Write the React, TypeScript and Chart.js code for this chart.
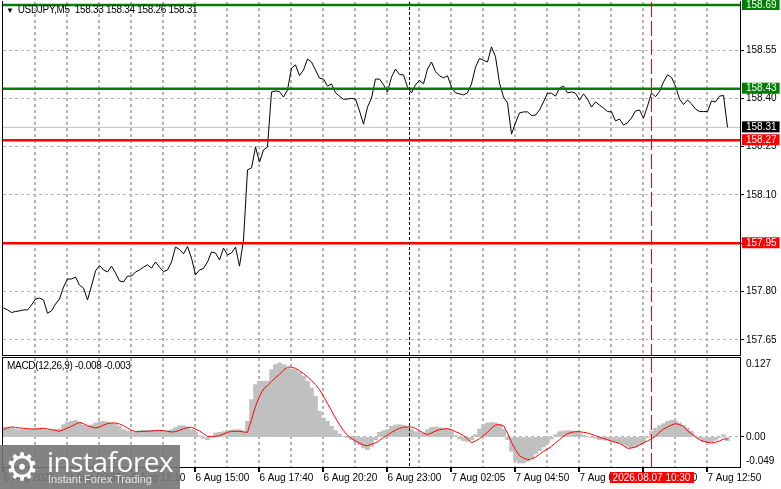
import React, { useEffect, useRef } from "react";
import { Chart, registerables } from "chart.js";

Chart.register(...registerables);

const FONT = "'Liberation Sans', Arial, sans-serif";

const priceValues: number[] = [
  157.749, 157.743, 157.735, 157.738, 157.740, 157.743, 157.743, 157.758, 157.777, 157.780,
  157.774, 157.733, 157.740, 157.761, 157.777, 157.814, 157.839, 157.839, 157.845, 157.820,
  157.811, 157.774, 157.817, 157.864, 157.881, 157.867, 157.861, 157.879, 157.858, 157.833,
  157.830, 157.848, 157.848, 157.861, 157.867, 157.876, 157.883, 157.873, 157.892, 157.876,
  157.862, 157.867, 157.892, 157.938, 157.931, 157.917, 157.940, 157.904, 157.852, 157.867,
  157.872, 157.892, 157.923, 157.920, 157.898, 157.935, 157.914, 157.920, 157.938, 157.879,
  157.960, 158.178, 158.184, 158.249, 158.202, 158.240, 158.249, 158.420, 158.423, 158.421,
  158.404, 158.426, 158.494, 158.504, 158.471, 158.488, 158.522, 158.513, 158.488, 158.463,
  158.460, 158.438, 158.445, 158.417, 158.407, 158.397, 158.398, 158.400, 158.398, 158.361,
  158.320, 158.373, 158.401, 158.460, 158.460, 158.442, 158.420, 158.466, 158.491, 158.474,
  158.473, 158.435, 158.417, 158.442, 158.456, 158.445, 158.491, 158.513, 158.483, 158.470,
  158.464, 158.470, 158.435, 158.417, 158.414, 158.411, 158.417, 158.445, 158.497, 158.524,
  158.518, 158.513, 158.560, 158.529, 158.448, 158.404, 158.386, 158.289, 158.324, 158.355,
  158.358, 158.358, 158.347, 158.348, 158.364, 158.389, 158.416, 158.416, 158.407, 158.432,
  158.438, 158.417, 158.420, 158.416, 158.395, 158.414, 158.398, 158.373, 158.389, 158.379,
  158.370, 158.359, 158.358, 158.330, 158.336, 158.317, 158.324, 158.339, 158.361, 158.364,
  158.339, 158.376, 158.417, 158.405, 158.421, 158.451, 158.473, 158.465, 158.438, 158.398,
  158.381, 158.395, 158.383, 158.367, 158.359, 158.359, 158.359, 158.392, 158.389, 158.407,
  158.409, 158.310,
];

const macdMain: number[] = [
  0.0163, 0.0158, 0.0147, 0.0131, 0.0120, 0.0120, 0.0120, 0.0125, 0.0131, 0.0125,
  0.0120, 0.0109, 0.0109, 0.0120, 0.0131, 0.0202, 0.0240, 0.0256, 0.0272, 0.0240,
  0.0196, 0.0174, 0.0196, 0.0229, 0.0251, 0.0256, 0.0245, 0.0229, 0.0218, 0.0174,
  0.0120, 0.0093, 0.0065, 0.0076, 0.0103, 0.0109, 0.0109, 0.0109, 0.0103, 0.0098,
  0.0093, 0.0103, 0.0120, 0.0153, 0.0185, 0.0185, 0.0163, 0.0120, 0.0076, 0.0022,
  -0.0022, -0.0044, 0.0022, 0.0065, 0.0076, 0.0087, 0.0103, 0.0109, 0.0120, 0.0120,
  0.0103, 0.0256, 0.0610, 0.0855, 0.0910, 0.0910, 0.0910, 0.1100, 0.1182, 0.1209,
  0.1182, 0.1128, 0.1111, 0.1100, 0.1057, 0.0991, 0.0910, 0.0801, 0.0665, 0.0419,
  0.0310, 0.0256, 0.0174, 0.0103, 0.0049, 0.0011, -0.0005, -0.0044, -0.0076, -0.0125,
  -0.0180, -0.0207, -0.0153, -0.0044, 0.0076, 0.0103, 0.0120, 0.0174, 0.0196, 0.0202,
  0.0191, 0.0174, 0.0120, 0.0087, 0.0065, 0.0065, 0.0120, 0.0158, 0.0163, 0.0153,
  0.0136, 0.0131, 0.0093, 0.0022, -0.0033, -0.0060, -0.0071, -0.0044, 0.0038, 0.0131,
  0.0202, 0.0229, 0.0240, 0.0229, 0.0202, 0.0120, -0.0044, -0.0234, -0.0381, -0.0425,
  -0.0425, -0.0398, -0.0343, -0.0272, -0.0223, -0.0163, -0.0098, -0.0033, 0.0038, 0.0087,
  0.0098, 0.0103, 0.0098, 0.0087, 0.0065, 0.0027, 0.0000, -0.0011, -0.0022, -0.0044,
  -0.0049, -0.0054, -0.0071, -0.0087, -0.0098, -0.0125, -0.0153, -0.0174, -0.0169, -0.0131,
  -0.0076, -0.0016, 0.0093, 0.0142, 0.0185, 0.0218, 0.0256, 0.0272, 0.0261, 0.0229,
  0.0185, 0.0147, 0.0093, 0.0022, -0.0033, -0.0076, -0.0098, -0.0082, -0.0054, -0.0016,
  0.0038, -0.0060,
];

const macdSignal: number[] = [
  0.0120, 0.0153, 0.0163, 0.0158, 0.0147, 0.0142, 0.0136, 0.0131, 0.0131, 0.0136,
  0.0142, 0.0131, 0.0120, 0.0109, 0.0093, 0.0120, 0.0147, 0.0174, 0.0207, 0.0240,
  0.0218, 0.0185, 0.0163, 0.0147, 0.0163, 0.0196, 0.0218, 0.0229, 0.0229, 0.0212,
  0.0185, 0.0147, 0.0109, 0.0087, 0.0087, 0.0093, 0.0093, 0.0098, 0.0103, 0.0109,
  0.0103, 0.0093, 0.0082, 0.0087, 0.0109, 0.0136, 0.0153, 0.0158, 0.0131, 0.0098,
  0.0054, 0.0011, 0.0000, 0.0011, 0.0022, 0.0049, 0.0076, 0.0093, 0.0093, 0.0093,
  0.0082, 0.0076, 0.0283, 0.0501, 0.0665, 0.0784, 0.0839, 0.0904, 0.0970, 0.1024,
  0.1089, 0.1144, 0.1138, 0.1122, 0.1084, 0.1035, 0.0980, 0.0921, 0.0855, 0.0773,
  0.0665, 0.0545, 0.0431, 0.0310, 0.0202, 0.0103, 0.0027, -0.0022, -0.0065, -0.0103,
  -0.0131, -0.0142, -0.0120, -0.0098, -0.0054, -0.0011, 0.0033, 0.0076, 0.0109, 0.0142,
  0.0158, 0.0163, 0.0163, 0.0142, 0.0103, 0.0065, 0.0038, 0.0065, 0.0098, 0.0120,
  0.0131, 0.0136, 0.0120, 0.0087, 0.0060, 0.0022, -0.0033, -0.0093, -0.0065, -0.0027,
  0.0027, 0.0076, 0.0147, 0.0196, 0.0202, 0.0185, 0.0065, -0.0087, -0.0207, -0.0305,
  -0.0343, -0.0370, -0.0359, -0.0327, -0.0283, -0.0234, -0.0196, -0.0153, -0.0098, -0.0044,
  0.0011, 0.0054, 0.0076, 0.0087, 0.0087, 0.0076, 0.0065, 0.0044, 0.0022, -0.0005,
  -0.0022, -0.0044, -0.0065, -0.0087, -0.0103, -0.0142, -0.0185, -0.0180, -0.0163, -0.0131,
  -0.0093, -0.0065, -0.0027, 0.0011, 0.0076, 0.0131, 0.0163, 0.0196, 0.0218, 0.0202,
  0.0174, 0.0098, 0.0054, 0.0000, -0.0044, -0.0071, -0.0087, -0.0098, -0.0087, -0.0065,
  -0.0033, -0.0033,
];

const BARS_PER_POINT = 2;
const GRID_STEP_BARS = 16;
const LABEL_STEP_BARS = 32;
const xTickLabels = [
  "6 Aug 2026", "6 Aug 09:30", "6 Aug 12:10", "6 Aug 15:00", "6 Aug 17:40", "6 Aug 20:20",
  "6 Aug 23:00", "7 Aug 02:05", "7 Aug 04:50", "7 Aug 07:30", "7 Aug 10:10", "7 Aug 12:50",
];

const priceGridTicks = [158.55, 158.4, 158.25, 158.1, 157.95, 157.8, 157.65];
const markValues = [158.69, 158.43, 158.31, 158.27, 157.95];
const markColors = ["#008000", "#008000", "#000000", "#ff0000", "#ff0000"];
const greenLevels = [158.69, 158.43];
const redLevels = [158.27, 157.95];
const bidPrice = 158.31;
const dottedLineBar = 203;
const timeLineBar = 324;
const timeLineLabel = "2026.08.07 10:30";
const macdTickPos = [0.118, 0, -0.039];
const macdTickLabels = ["0.127", "0.00", "-0.049"];
const titleText = "USDJPY,M5  158.33 158.34 158.26 158.31";
const macdText = "MACD(12,26,9) -0.008 -0.003";

const X_MIN = -0.25;
const X_MAX = 368.25;
const PRICE_MIN = 157.603;
const PRICE_MAX = 158.6993;
const MACD_MIN = -0.049;
const MACD_MAX = 0.129;

const GRID_COLOR = "#b4b4b4";

const gridBars: number[] = [];
for (let b = 0; b <= X_MAX; b += GRID_STEP_BARS) gridBars.push(b);

const toPoints = (arr: number[]) => arr.map((y, i) => ({ x: i * BARS_PER_POINT, y }));

// frame + vertical time grid (dashed), positions from the x scale
const framePlugin = (drawTop: boolean, drawTimeTicks: boolean) => ({
  id: "panelFrame",
  beforeDatasetsDraw(chart: any) {
    const { ctx, chartArea: a } = chart;
    const xs = chart.scales.x;
    ctx.save();
    ctx.fillStyle = GRID_COLOR;
    for (const b of gridBars) {
      const px = Math.floor(xs.getPixelForValue(b));
      if (px <= a.left + 1 || px >= a.right - 1) continue;
      for (let y = Math.ceil(a.top); y < a.bottom; y += 6) {
        ctx.fillRect(px - 1, y, 2, Math.min(3, a.bottom - y));
      }
    }
    ctx.restore();
  },
  afterDatasetsDraw(chart: any) {
    const { ctx, chartArea: a } = chart;
    ctx.save();
    ctx.fillStyle = "#000";
    const l = Math.round(a.left) - 1;
    const r = Math.round(a.right);
    const t = Math.round(a.top) - 1;
    const btm = Math.round(a.bottom);
    if (drawTop) ctx.fillRect(l, t, r - l + 1, 1);
    ctx.fillRect(l, t, 1, btm - t + 1);
    ctx.fillRect(r, t, 1, btm - t + 1);
    ctx.fillRect(l, btm, r - l + 1, 1);
    if (drawTimeTicks) {
      const xs = chart.scales.x;
      for (const b of gridBars) {
        if (b % LABEL_STEP_BARS !== 0) continue;
        ctx.fillRect(Math.floor(xs.getPixelForValue(b)) - 1, btm, 2, 5);
      }
    }
    ctx.restore();
  },
});

const timeBoxPlugin = {
  id: "timeBox",
  afterDraw(chart: any) {
    const { ctx, chartArea } = chart;
    const x = chart.scales.x.getPixelForValue(timeLineBar);
    ctx.save();
    ctx.font = `10px ${FONT}`;
    const w = ctx.measureText(timeLineLabel).width + 6;
    const top = chartArea.bottom + 5;
    ctx.fillStyle = "#ff0000";
    ctx.fillRect(Math.round(x - w / 2), top, Math.round(w), 11);
    ctx.fillStyle = "#ffffff";
    ctx.textAlign = "center";
    ctx.textBaseline = "middle";
    ctx.fillText(timeLineLabel, x, top + 6);
    ctx.restore();
  },
};

const hLine = (v: number, color: string, width: number, order: number) => ({
  type: "line" as const,
  data: [{ x: X_MIN, y: v }, { x: X_MAX, y: v }],
  borderColor: color,
  borderWidth: width,
  pointRadius: 0,
  order,
});

const vLine = (bar: number, lo: number, hi: number, color: string, dash: number[], order = 0) => ({
  type: "line" as const,
  data: [{ x: bar, y: hi }, { x: bar, y: lo }],
  borderColor: color,
  borderWidth: 1,
  borderDash: dash,
  pointRadius: 0,
  order,
});

const xScaleBase = {
  type: "linear" as const,
  min: X_MIN,
  max: X_MAX,
  offset: false,
  afterBuildTicks: (s: any) => {
    s.ticks = gridBars.map((v) => ({ value: v }));
  },
};

export default function App() {
  const mainRef = useRef<HTMLCanvasElement>(null);
  const macdRef = useRef<HTMLCanvasElement>(null);

  useEffect(() => {
    const main = new Chart(mainRef.current!, {
      type: "line",
      data: {
        datasets: [
          hLine(bidPrice, "#c0c0c0", 1, 3),
          {
            type: "line",
            data: toPoints(priceValues),
            borderColor: "#000000",
            borderWidth: 1,
            pointRadius: 0,
            tension: 0,
            order: 2,
          },
          ...greenLevels.map((v) => hLine(v, "#008000", 2.5, 1)),
          ...redLevels.map((v) => hLine(v, "#ff0000", 2.5, 1)),
          vLine(dottedLineBar, PRICE_MIN, PRICE_MAX, "#000000", [3, 2]),
          vLine(timeLineBar, PRICE_MIN, PRICE_MAX, "#ff0000", [15, 4]),
        ] as any,
      },
      options: {
        animation: false,
        responsive: true,
        maintainAspectRatio: false,
        devicePixelRatio: 1,
        events: [],
        layout: { padding: { left: 3, top: 2, right: 0, bottom: 2 } },
        plugins: { legend: { display: false }, tooltip: { enabled: false } },
        scales: {
          x: {
            ...xScaleBase,
            afterFit: (s: any) => {
              s.height = 0;
              s.paddingLeft = 0;
              s.paddingRight = 0;
            },
            ticks: { display: false },
            grid: { display: false, drawTicks: false, offset: false },
            border: { display: false },
          },
          y: {
            type: "linear",
            position: "right",
            min: PRICE_MIN,
            max: PRICE_MAX,
            afterBuildTicks: (s: any) => {
              s.ticks = [...priceGridTicks, ...markValues].map((v) => ({ value: v }));
            },
            afterFit: (s: any) => {
              s.width = 41;
              s.paddingTop = 0;
              s.paddingBottom = 0;
            },
            ticks: {
              autoSkip: false,
              padding: 2,
              font: { family: FONT, size: 10, lineHeight: 1 },
              color: (c: any) => (c.index >= priceGridTicks.length ? "#ffffff" : "#000000"),
              showLabelBackdrop: (c: any) => c.index >= priceGridTicks.length,
              backdropColor: (c: any) => markColors[c.index - priceGridTicks.length] || "transparent",
              backdropPadding: { top: 1, bottom: 0, left: 4, right: 3 },
              callback: (v: any) => Number(v).toFixed(2),
            } as any,
            grid: {
              color: (c: any) => (c.index < priceGridTicks.length ? GRID_COLOR : "transparent"),
              tickColor: (c: any) => (c.index < priceGridTicks.length ? "#000000" : "transparent"),
              drawTicks: true,
              tickLength: 4,
              lineWidth: 1,
            },
            border: { display: false, dash: [3, 3] },
          },
        },
      },
      plugins: [framePlugin(false, false)],
    });

    const macd = new Chart(macdRef.current!, {
      type: "line",
      data: {
        datasets: [
          {
            type: "bar",
            data: toPoints(macdMain),
            backgroundColor: "#c0c0c0",
            borderWidth: 0,
            barPercentage: 1,
            categoryPercentage: 1,
            grouped: false,
            order: 3,
          },
          {
            type: "line",
            data: toPoints(macdSignal),
            borderColor: "#ff0000",
            borderWidth: 1,
            pointRadius: 0,
            tension: 0,
            order: 2,
          },
          vLine(dottedLineBar, MACD_MIN, MACD_MAX, "#000000", [3, 2]),
          vLine(timeLineBar, MACD_MIN, MACD_MAX, "#ff0000", [15, 4]),
        ] as any,
      },
      options: {
        animation: false,
        responsive: true,
        maintainAspectRatio: false,
        devicePixelRatio: 1,
        events: [],
        layout: { padding: { left: 3, top: 1, right: 0, bottom: 0 } },
        plugins: { legend: { display: false }, tooltip: { enabled: false } },
        scales: {
          x: {
            ...xScaleBase,
            afterFit: (s: any) => {
              s.height = 22;
              s.paddingLeft = 0;
              s.paddingRight = 0;
            },
            ticks: {
              autoSkip: false,
              maxRotation: 0,
              minRotation: 0,
              align: "start",
              padding: 2,
              color: "#000000",
              font: { family: FONT, size: 10, lineHeight: 1 },
              callback: (v: any) => {
                const n = Number(v);
                return n % LABEL_STEP_BARS === 0 ? xTickLabels[n / LABEL_STEP_BARS] || "" : "";
              },
            },
            grid: {
              color: "transparent",
              tickColor: "transparent",
              drawTicks: true,
              tickLength: 4,
              offset: false,
            },
            border: { display: false },
          },
          y: {
            type: "linear",
            position: "right",
            min: MACD_MIN,
            max: MACD_MAX,
            afterBuildTicks: (s: any) => {
              s.ticks = macdTickPos.map((v) => ({ value: v }));
            },
            afterFit: (s: any) => {
              s.width = 41;
              s.paddingTop = 0;
              s.paddingBottom = 0;
            },
            ticks: {
              autoSkip: false,
              padding: 2,
              color: "#000000",
              font: { family: FONT, size: 10, lineHeight: 1 },
              callback: (_v: any, i: number) => macdTickLabels[i],
            },
            grid: {
              color: (c: any) => (macdTickPos[c.index] === 0 ? GRID_COLOR : "transparent"),
              tickColor: (c: any) => (macdTickPos[c.index] === 0 ? "#000000" : "transparent"),
              drawTicks: true,
              tickLength: 4,
              lineWidth: 1,
            },
            border: { display: false, dash: [3, 3] },
          },
        },
      },
      plugins: [framePlugin(true, true), timeBoxPlugin],
    });

    return () => {
      main.destroy();
      macd.destroy();
    };
  }, []);

  return (
    <div
      style={{
        position: "absolute",
        left: 0,
        top: 0,
        width: 781,
        height: 489,
        overflow: "hidden",
        background: "#ffffff",
      }}
    >
      <div style={{ position: "absolute", left: 0, top: 0, width: 781, height: 357 }}>
        <canvas ref={mainRef} />
      </div>
      <div style={{ position: "absolute", left: 0, top: 357, width: 781, height: 132 }}>
        <canvas ref={macdRef} />
      </div>
      <div
        style={{
          position: "absolute",
          left: 6,
          top: 4,
          fontFamily: FONT,
          fontSize: 10,
          lineHeight: "12px",
          color: "#000",
          whiteSpace: "pre",
          letterSpacing: "-0.3px",
        }}
      >
        <span style={{ fontSize: 8, marginRight: 4 }}>▼</span>
        {titleText}
      </div>
      <div
        style={{
          position: "absolute",
          left: 7,
          top: 360,
          fontFamily: FONT,
          fontSize: 10,
          lineHeight: "12px",
          color: "#000",
          whiteSpace: "pre",
          letterSpacing: "-0.3px",
        }}
      >
        {macdText}
      </div>
      <div
        style={{
          position: "absolute",
          left: 0,
          top: 445,
          width: 180,
          height: 44,
          background: "rgba(118,118,118,0.9)",
          overflow: "hidden",
        }}
      >
        <span
          style={{
            position: "absolute",
            left: 5,
            top: 0,
            fontFamily: "'DejaVu Sans', sans-serif",
            fontSize: 38,
            lineHeight: "44px",
            color: "#ffffff",
          }}
        >
          ⚙
        </span>
        <span
          style={{
            position: "absolute",
            left: 47,
            top: 1,
            fontFamily: "'Open Sans', sans-serif",
            fontSize: 28,
            lineHeight: "30px",
            color: "#ffffff",
            letterSpacing: "-0.5px",
          }}
        >
          instaforex
        </span>
        <span
          style={{
            position: "absolute",
            left: 48,
            top: 28,
            fontFamily: FONT,
            fontSize: 11,
            lineHeight: "12px",
            color: "#e6e6e6",
          }}
        >
          Instant Forex Trading
        </span>
      </div>
    </div>
  );
}
